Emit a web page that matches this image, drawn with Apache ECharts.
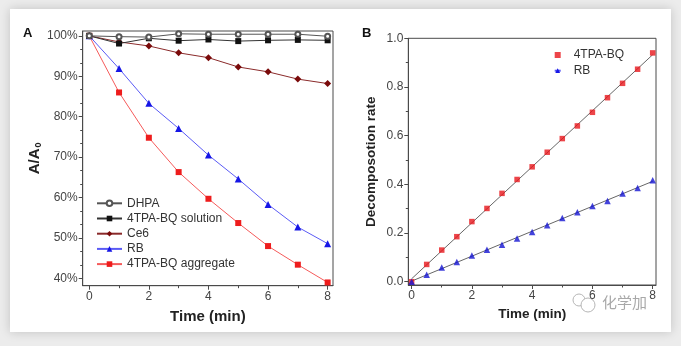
<!DOCTYPE html>
<html>
<head>
<meta charset="utf-8">
<script src="https://cdn.jsdelivr.net/npm/echarts@6/dist/echarts.min.js"></script>
<style>
  html, body { margin: 0; padding: 0; }
  body { width: 681px; height: 346px; background: #ececec; position: relative; overflow: hidden; }
  #card { position: absolute; left: 10px; top: 9px; width: 661px; height: 323px; background: #fff;
          box-shadow: 0 0 10px rgba(0,0,0,0.18); }
  #chart { position: absolute; left: 0; top: 0; width: 681px; height: 346px; }
</style>
</head>
<body>
<div id="card"></div>
<div id="chart"></div>
<script>
// Panel A: relative absorbance A/A0 (%) versus irradiation time
const timeA = [0, 1, 2, 3, 4, 5, 6, 7, 8];
const dhpa = [100, 99.8, 99.7, 100.5, 100.4, 100.4, 100.4, 100.4, 99.9];
const bqSolution = [100, 98.1, 99.4, 98.8, 99.1, 98.7, 98.9, 99.0, 98.9];
const ce6 = [100, 98.5, 97.5, 95.8, 94.6, 92.3, 91.1, 89.3, 88.2];
const rbA = [100, 91.9, 83.3, 77.1, 70.5, 64.6, 58.3, 52.7, 48.6];
const bqAggregate = [100, 86.0, 74.8, 66.3, 59.7, 53.7, 48.0, 43.4, 39.0];
const namesA = ['DHPA', '4TPA-BQ solution', 'Ce6', 'RB', '4TPA-BQ aggregate'];

// Panel B: decomposition rate versus time
const timeB = [0, 0.5, 1, 1.5, 2, 2.5, 3, 3.5, 4, 4.5, 5, 5.5, 6, 6.5, 7, 7.5, 8];
const bqRate = [0, 0.071, 0.130, 0.185, 0.247, 0.301, 0.363, 0.420, 0.472, 0.532, 0.588, 0.640, 0.696, 0.756, 0.815, 0.873, 0.940];
const rbRate = [0, 0.029, 0.058, 0.081, 0.108, 0.131, 0.152, 0.178, 0.204, 0.232, 0.262, 0.285, 0.311, 0.332, 0.362, 0.385, 0.417];
const namesB = ['4TPA-BQ', 'RB'];

// Tick values
const ticksAx = [0, 2, 4, 6, 8];
const minorAx = [1, 3, 5, 7];
const ticksAy = [40, 50, 60, 70, 80, 90, 100];
const minorAy = [43.33, 46.67, 53.33, 56.67, 63.33, 66.67, 73.33, 76.67, 83.33, 86.67, 93.33, 96.67];
const ticksBy = [0, 0.2, 0.4, 0.6, 0.8, 1.0];
const minorBy = [0.1, 0.3, 0.5, 0.7, 0.9];

const FONT = 'Liberation Sans, Arial, sans-serif';
const AXC = '#4a4a4a';

function pairs(xs, ys) { return xs.map((x, i) => [x, ys[i]]); }

// least-squares straight line through the points, drawn across the time span
function fitLine(xs, ys) {
  const n = xs.length;
  const mx = xs.reduce((a, b) => a + b, 0) / n;
  const my = ys.reduce((a, b) => a + b, 0) / n;
  let sxy = 0, sxx = 0;
  for (let i = 0; i < n; i++) { sxy += (xs[i] - mx) * (ys[i] - my); sxx += (xs[i] - mx) ** 2; }
  const k = sxy / sxx, b = my - k * mx;
  const x0 = xs[0], x1 = xs[n - 1];
  return [[x0, b + k * x0], [x1, b + k * x1]];
}

function majorAxis(gridIndex, position, min, max, ticks, fmt, extra) {
  return Object.assign({
    type: 'value', gridIndex, position, min, max,
    axisLine: { show: true, onZero: false, lineStyle: { color: AXC, width: 1 } },
    axisTick: { show: true, customValues: ticks, length: 4, lineStyle: { color: AXC } },
    axisLabel: { show: true, customValues: ticks, formatter: fmt, color: '#444', fontSize: 12, fontFamily: FONT, margin: 5 },
    splitLine: { show: false }
  }, extra);
}
function minorAxis(gridIndex, position, min, max, ticks) {
  return {
    type: 'value', gridIndex, position, min, max,
    axisLine: { show: false, onZero: false },
    axisTick: { show: true, customValues: ticks, length: 2.5, lineStyle: { color: AXC } },
    axisLabel: { show: false },
    splitLine: { show: false }
  };
}

const xMinA = -0.22, xMaxA = 8.18, yMinA = 38.2, yMaxA = 101.2;
const xMinB = -0.11, xMaxB = 8.11, yMinB = -0.0135, yMaxB = 1.0;

function lineSeries(name, data, symbol, size, lineColor, markColor, z) {
  const hollow = symbol === 'emptyCircle';
  return {
    name, type: 'line', xAxisIndex: 0, yAxisIndex: 0,
    data: pairs(timeA, data), symbol, symbolSize: size, z,
    lineStyle: { color: lineColor, width: 1 },
    itemStyle: hollow
      ? { color: markColor, borderColor: markColor, borderWidth: 0.8 }
      : { color: markColor, borderWidth: 0 },
    emphasis: { disabled: true }
  };
}

const chart = echarts.init(document.getElementById('chart'), null, { renderer: 'canvas' });
chart.setOption({
  backgroundColor: 'transparent',
  animation: false,
  textStyle: { fontFamily: FONT },
  grid: [
    { left: 82.7, top: 31, width: 250.3, height: 254.7, show: true, borderColor: AXC, borderWidth: 1, backgroundColor: 'transparent' },
    { left: 408.3, top: 38.3, width: 247.7, height: 246.7, show: true, borderColor: AXC, borderWidth: 1, backgroundColor: 'transparent' }
  ],
  xAxis: [
    majorAxis(0, 'bottom', xMinA, xMaxA, ticksAx, v => String(v), {
      name: 'Time (min)', nameLocation: 'middle', nameGap: 24,
      nameTextStyle: { fontSize: 15, fontWeight: 'bold', color: '#222', fontFamily: FONT }
    }),
    minorAxis(0, 'bottom', xMinA, xMaxA, minorAx),
    majorAxis(1, 'bottom', xMinB, xMaxB, ticksAx, v => String(v), {
      name: 'Time (min)', nameLocation: 'middle', nameGap: 21,
      nameTextStyle: { fontSize: 13.5, fontWeight: 'bold', color: '#222', fontFamily: FONT }
    }),
    minorAxis(1, 'bottom', xMinB, xMaxB, minorAx)
  ],
  yAxis: [
    majorAxis(0, 'left', yMinA, yMaxA, ticksAy, v => Math.round(v) + '%', {
      name: '{m|A/A}{s|0}', nameLocation: 'middle', nameGap: 32, nameRotate: 90,
      nameTextStyle: {
        color: '#222', fontFamily: FONT,
        rich: {
          m: { fontSize: 15, fontWeight: 'bold', color: '#222', fontFamily: FONT },
          s: { fontSize: 9, fontWeight: 'bold', color: '#222', fontFamily: FONT, padding: [8, 0, 0, 1] }
        }
      }
    }),
    minorAxis(0, 'left', yMinA, yMaxA, minorAy),
    majorAxis(1, 'left', yMinB, yMaxB, ticksBy, v => v.toFixed(1), {
      name: 'Decomposotion rate', nameLocation: 'middle', nameGap: 30, nameRotate: 90,
      nameTextStyle: { fontSize: 13.5, fontWeight: 'bold', color: '#222', fontFamily: FONT }
    }),
    minorAxis(1, 'left', yMinB, yMaxB, minorBy)
  ],
  legend: [
    {
      data: namesA, orient: 'vertical', left: 91, top: 192.3,
      itemWidth: 25, itemHeight: 7, itemGap: 3.2,
      textStyle: { fontSize: 12, color: '#333', fontFamily: FONT, lineHeight: 12 },
      selectedMode: false
    },
    {
      data: namesB, orient: 'vertical', left: 548.7, top: 44,
      itemWidth: 6, itemHeight: 6, itemGap: 3.7,
      textStyle: { fontSize: 12, color: '#333', fontFamily: FONT, lineHeight: 12, padding: [0, 0, 0, 8] },
      selectedMode: false
    }
  ],
  series: [
    lineSeries(namesA[4], bqAggregate, 'rect', 6, '#f55a5a', '#ee1c1c', 2),
    lineSeries(namesA[3], rbA, 'triangle', 7, '#5a5af5', '#1616e6', 2),
    lineSeries(namesA[2], ce6, 'diamond', 7, '#8a2a2a', '#7a0a0a', 3),
    lineSeries(namesA[1], bqSolution, 'rect', 6, '#333', '#111', 4),
    lineSeries(namesA[0], dhpa, 'emptyCircle', 5, '#555', '#555', 5),
    {
      type: 'line', xAxisIndex: 2, yAxisIndex: 2, data: fitLine(timeB, bqRate),
      symbol: 'none', lineStyle: { color: '#666', width: 1 }, z: 1, silent: true
    },
    {
      type: 'line', xAxisIndex: 2, yAxisIndex: 2, data: fitLine(timeB, rbRate),
      symbol: 'none', lineStyle: { color: '#666', width: 1 }, z: 1, silent: true
    },
    {
      name: namesB[0], type: 'scatter', xAxisIndex: 2, yAxisIndex: 2,
      data: pairs(timeB, bqRate), symbol: 'rect', symbolSize: 5.5,
      itemStyle: { color: '#e8161c' }, z: 3
    },
    {
      name: namesB[1], type: 'scatter', xAxisIndex: 2, yAxisIndex: 2,
      data: pairs(timeB, rbRate), symbol: 'triangle', symbolSize: 6.5,
      itemStyle: { color: '#1414d2' }, z: 3
    }
  ],
  graphic: [
    { type: 'text', left: 23, top: 27, style: { text: 'A', fontSize: 13, fontWeight: 'bold', fill: '#111', fontFamily: FONT } },
    { type: 'text', left: 362, top: 27, style: { text: 'B', fontSize: 13, fontWeight: 'bold', fill: '#111', fontFamily: FONT } },
    { type: 'circle', shape: { cx: 579, cy: 300, r: 6 }, style: { fill: 'none', stroke: '#b5b5b5', lineWidth: 1 } },
    { type: 'circle', shape: { cx: 588, cy: 305, r: 7 }, style: { fill: '#fff', stroke: '#b5b5b5', lineWidth: 1 } },
    { type: 'text', left: 602, top: 295, style: { text: '化学加', fontSize: 15, fill: '#a8a8a8', fontFamily: 'Noto Sans CJK SC' } }
  ]
});
</script>
</body>
</html>
